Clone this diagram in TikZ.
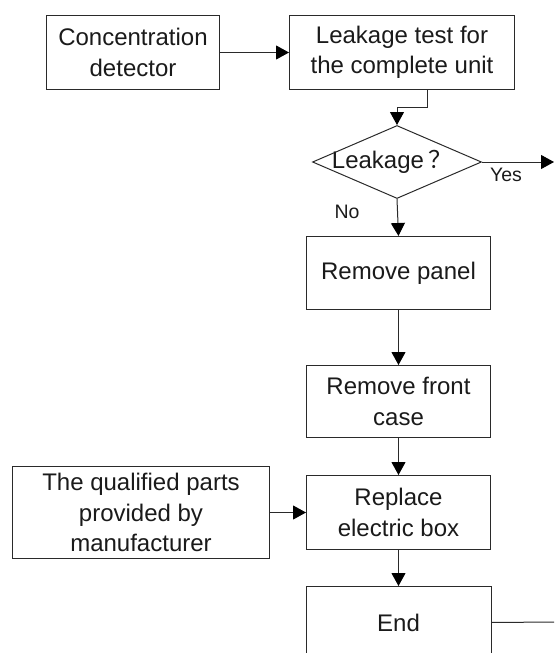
\documentclass[tikz,border=0pt]{standalone}
\usepackage{fontspec}
\setmainfont{Liberation Sans}
\newfontfamily\cjk{Noto Sans CJK SC}
\usetikzlibrary{arrows.meta,shapes.geometric}
\definecolor{ln}{HTML}{2A2A2A}
\definecolor{tx}{HTML}{1A1A1A}
\tikzset{
  box/.style={draw=ln, line width=1pt, rectangle, inner sep=0pt, align=center, text=tx,
    font=\fontsize{24}{30.5}\selectfont},
  arr/.style={draw=ln, line width=1pt, -{Triangle[length=13pt,width=14pt,color=black]}},
  ln/.style={draw=ln, line width=1pt},
  small/.style={text=tx, inner sep=0pt, font=\fontsize{19.5}{22}\selectfont}
}
\begin{document}
\begin{tikzpicture}[x=1pt,y=1pt]
\useasboundingbox (0,0) rectangle (554,-653);
\node[box, minimum width=173pt, minimum height=74pt, anchor=north west] (conc) at (46,-15) {Concentration\\detector};
\node[box, minimum width=225pt, minimum height=74pt, anchor=north west] (test) at (289,-15) {Leakage test for\\the complete unit};
\node[box, diamond, minimum width=169pt, minimum height=73pt] (dia) at (397,-162)
  {\makebox[0pt]{\hspace*{-10pt}Leakage\,{\cjk ？}}};
\node[box, minimum width=184pt, minimum height=73pt, anchor=north west] (panel) at (306,-236) {Remove panel};
\node[box, minimum width=184pt, minimum height=72pt, anchor=north west] (front) at (306,-365) {Remove front\\case};
\node[box, minimum width=184pt, minimum height=74pt, anchor=north west] (repl) at (306,-475) {Replace\\electric box};
\node[box, minimum width=257pt, minimum height=92pt, anchor=north west] (qual) at (12,-466) {The qualified parts\\provided by\\manufacturer};
\node[box, draw=none, minimum width=184pt, minimum height=72pt, anchor=north west] (endb) at (306,-586) {End};
\draw[ln] ([yshift=-10pt]endb.south west) -- (endb.north west) -- (endb.north east) -- ([yshift=-10pt]endb.south east);
\node[small] (yes) at (506,-175) {Yes};
\node[small] (no) at (347,-212) {No};
\coordinate (yesout) at (554,-162);
\coordinate (endout) at (554,-622);
\draw[arr] (conc.east) -- (test.west);
\draw[arr] ([xshift=25pt]test.south) -- ++(0,-17) -| (dia.north);
\draw[arr] (dia.east) -- (yesout);
\draw[arr] (dia.south) -- (panel.north);
\draw[arr] (panel.south) -- (front.north);
\draw[arr] (front.south) -- (repl.north);
\draw[arr] (qual.east |- repl.east) -- (repl.west);
\draw[arr] (repl.south) -- (endb.north);
\draw[ln] (endb.east) -- (endout);
\end{tikzpicture}
\end{document}
